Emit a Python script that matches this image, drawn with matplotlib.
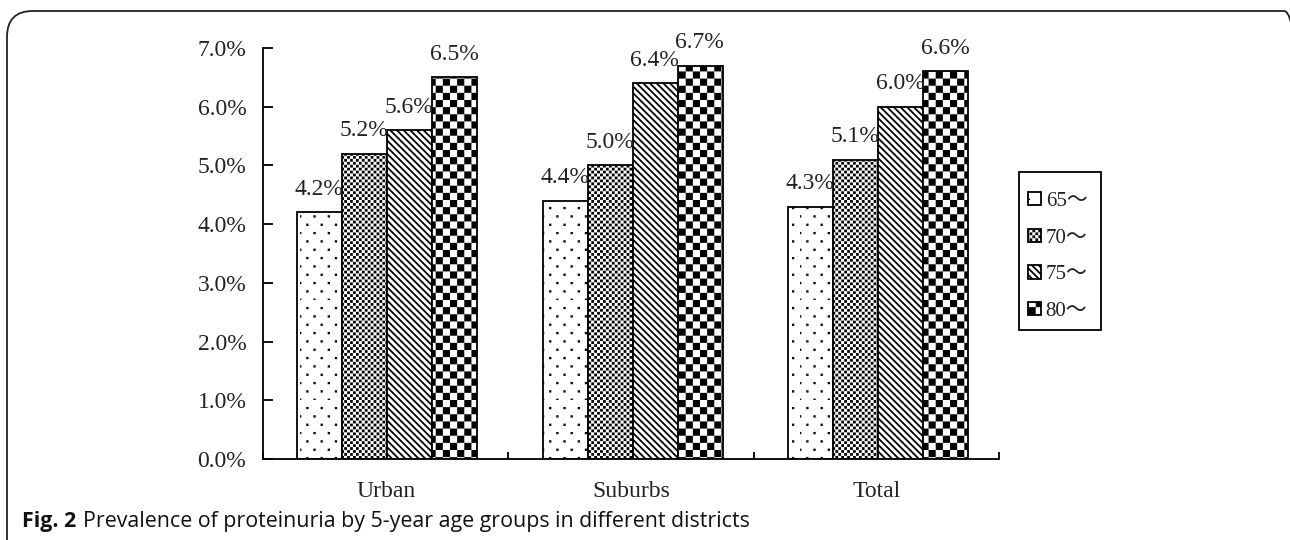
import warnings
import numpy as np
import matplotlib
matplotlib.use("Agg")
import matplotlib.pyplot as plt
import matplotlib.hatch as mhatch
from matplotlib.path import Path
from matplotlib.patches import FancyBboxPatch, Rectangle
from matplotlib.ticker import FixedLocator, NullFormatter, FixedFormatter

warnings.filterwarnings("ignore")

# ---------------- data ----------------
districts = ["Urban", "Suburbs", "Total"]
age_groups = ["65\uff5e", "70\uff5e", "75\uff5e", "80\uff5e"]
age65 = [4.2, 4.4, 4.3]
age70 = [5.2, 5.0, 5.1]
age75 = [5.6, 6.4, 6.0]
age80 = [6.5, 6.7, 6.6]
y_ticks = [0, 1, 2, 3, 4, 5, 6, 7]
caption_bold = "Fig. 2"
caption_text = "Prevalence of proteinuria by 5-year age groups in different districts"

HATCH_LW = 1.3                      # points
_INS = HATCH_LW * 100 / 72 / 2 / 100  # stroke half-width in hatch units


# ---------------- custom textures (checkerboard / dots) ----------------
class TextureHatch(mhatch.HatchPatternBase):
    def __init__(self, hatch, density):
        self.squares = []
        if "k" in hatch:          # coarse checkerboard
            n = 14
            c = 1.0 / n
            for i in range(n):
                for j in range(n):
                    if (i + j) % 2 == 0:
                        self.squares.append((i * c + _INS, j * c + _INS, c - 2 * _INS))
        if "g" in hatch:          # fine checkerboard (grey look)
            n = 34
            c = 1.0 / n
            ins = _INS * 1.1
            for i in range(n):
                for j in range(n):
                    if (i + j) % 2 == 0:
                        self.squares.append((i * c + ins, j * c + ins, max(c - 2 * ins, 0.001)))
        if "p" in hatch:          # sparse staggered dots
            ncol, nrow = 7, 12
            s = 0.005
            for r in range(nrow):
                off = 0.5 / ncol if r % 2 else 0.0
                for q in range(ncol):
                    x = (q / ncol + off) % 1.0
                    y = r / nrow
                    self.squares.append((x, y, s))
        self.num_vertices = 5 * len(self.squares)

    def set_vertices_and_codes(self, vertices, codes):
        for k, (x, y, s) in enumerate(self.squares):
            vertices[5 * k:5 * k + 5] = [(x, y), (x + s, y), (x + s, y + s),
                                         (x, y + s), (x, y)]
            codes[5 * k] = Path.MOVETO
            codes[5 * k + 1:5 * k + 4] = Path.LINETO
            codes[5 * k + 4] = Path.CLOSEPOLY


mhatch._hatch_types.append(TextureHatch)

# ---------------- figure ----------------
plt.rcParams["hatch.linewidth"] = HATCH_LW
plt.rcParams["hatch.color"] = "black"
serif = ["Liberation Serif", "Noto Sans CJK JP", "DejaVu Serif"]
plt.rcParams["font.family"] = serif

W, H = 1290, 540
fig = plt.figure(figsize=(W / 100, H / 100), dpi=100)
fig.patch.set_facecolor("white")

# outer rounded frame (open at right/bottom beyond the image)
frame = FancyBboxPatch((7 / W, -40 / H), (W + 20 - 7) / W, (H - 11 + 40) / H,
                       boxstyle="round,pad=0,rounding_size=0.02",
                       transform=fig.transFigure, facecolor="none",
                       edgecolor="#222222", linewidth=1.3, mutation_aspect=W / H)
fig.patches.append(frame)

ax = fig.add_axes([263 / W, 1 - 459 / H, (999 - 263) / W, (459 - 48) / H])

x = np.arange(len(districts))
bw = 0.1835
series = [age65, age70, age75, age80]
hatches = ["p", "g", "\\\\\\\\\\", "k"]
offsets = [-1.5, -0.5, 0.5, 1.5]
for vals, hch, off, lab in zip(series, hatches, offsets, age_groups):
    bars = ax.bar(x + off * bw + 0.007, vals, width=bw, facecolor="white",
                  edgecolor="black", linewidth=1.3, hatch=hch, label=lab)
    for b, v in zip(bars, vals):
        ax.annotate(f"{v:.1f}%", xy=(b.get_x() + b.get_width(), v),
                    xytext=(1, 12.5), textcoords="offset points",
                    ha="right", va="baseline", fontsize=17, color="#222222")

ax.set_xlim(-0.5, len(districts) - 0.5)
ax.set_ylim(0, 7)

for s in ["top", "right"]:
    ax.spines[s].set_visible(False)
for s in ["left", "bottom"]:
    ax.spines[s].set_linewidth(1.3)
    ax.spines[s].set_color("black")

ax.yaxis.set_major_locator(FixedLocator(y_ticks))
ax.set_yticklabels([f"{t:.1f}%" for t in y_ticks])
ax.tick_params(axis="y", direction="in", length=7, width=1.3, pad=12,
               labelsize=17, labelcolor="#222222")

ax.xaxis.set_major_locator(FixedLocator(np.arange(len(districts) + 1) - 0.5))
ax.xaxis.set_major_formatter(NullFormatter())
ax.xaxis.set_minor_locator(FixedLocator(x))
ax.xaxis.set_minor_formatter(FixedFormatter(districts))
ax.tick_params(axis="x", which="major", direction="in", length=5, width=1.3)
ax.tick_params(axis="x", which="minor", length=0, pad=16, labelsize=17,
               labelcolor="#222222")

# legend (frame drawn separately so horizontal / vertical padding differ)
leg = ax.legend(loc="upper left", bbox_to_anchor=(1028 / W, 1 - 192 / H),
                bbox_transform=fig.transFigure, fontsize=15, frameon=False,
                handlelength=0.6, handleheight=0.6, handletextpad=0.25,
                labelspacing=0.85, borderpad=0, borderaxespad=0)
for t in leg.get_texts():
    t.set_color("#222222")
fig.patches.append(Rectangle((1019 / W, 1 - 330 / H), (1101 - 1019) / W,
                             (330 - 172) / H, transform=fig.transFigure,
                             facecolor="none", edgecolor="black", linewidth=1.3))

# caption
t1 = fig.text(22 / W, 1 - 521 / H, caption_bold, fontsize=15.4, fontweight="bold",
              family=["Open Sans", "DejaVu Sans"], va="center", ha="left",
              color="#111111")
fig.canvas.draw()
bb = t1.get_window_extent()
fig.text((bb.x1 + 7) / W, 1 - 521 / H, caption_text, fontsize=15.4,
         family=["Open Sans", "DejaVu Sans"], va="center", ha="left",
         color="#111111")

fig.savefig("out.png", dpi=100, facecolor="white")
